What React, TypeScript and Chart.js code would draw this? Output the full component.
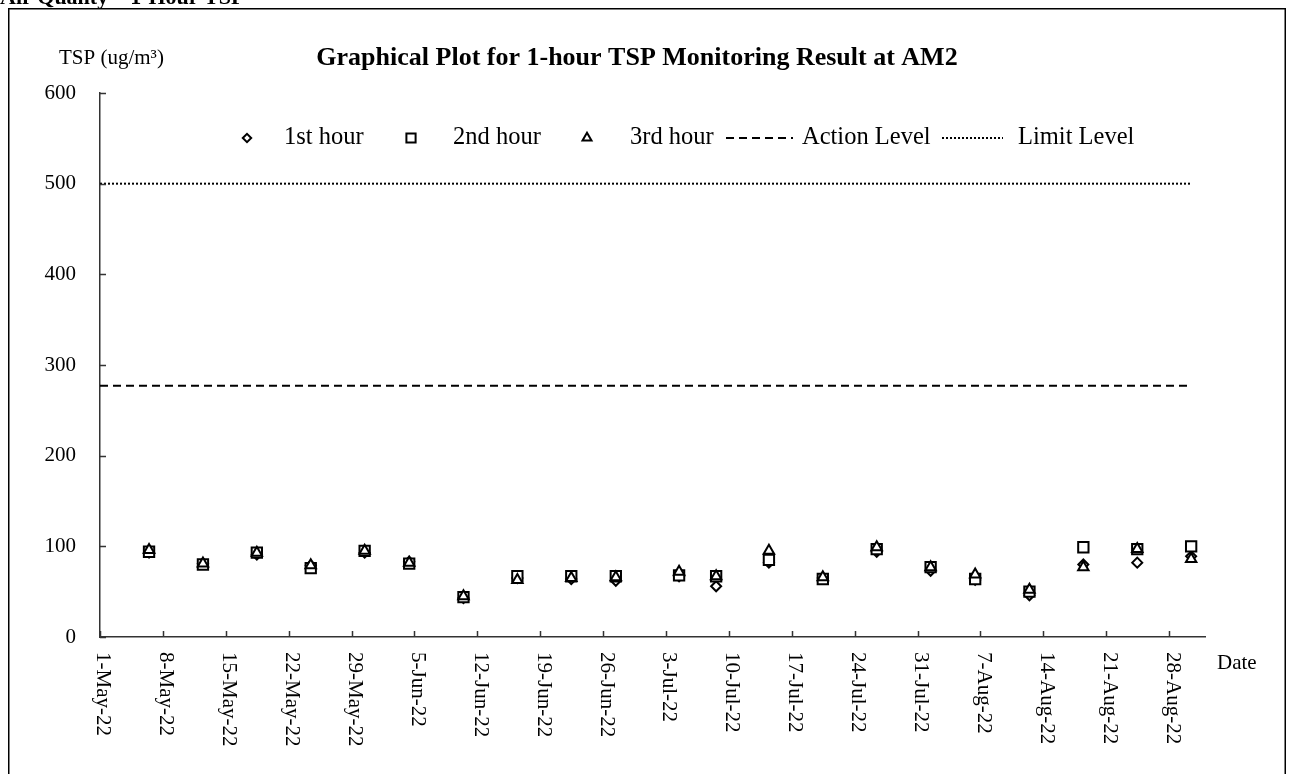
import React, { useEffect, useRef } from 'react';
import { Chart, registerables } from 'chart.js';

Chart.register(...registerables);

// ---------- data ----------
const sampleTimes = [
  '2022-05-06T11:00', '2022-05-12T11:00', '2022-05-18T11:00', '2022-05-24T11:00', '2022-05-30T11:00',
  '2022-06-04T10:00', '2022-06-10T11:00', '2022-06-16T11:00', '2022-06-22T11:00', '2022-06-27T10:00',
  '2022-07-04T11:00', '2022-07-08T14:00', '2022-07-14T11:00', '2022-07-20T11:00', '2022-07-26T11:00',
  '2022-08-01T11:00', '2022-08-06T10:00', '2022-08-12T11:00', '2022-08-18T11:00', '2022-08-24T11:00',
  '2022-08-30T11:00',
];
const firstHour = [93, 81, 91, 79, 93, 83, 43, 65, 64, 62, 67, 56, 82, 65, 94, 73, 63, 46, 80, 82, 89];
const secondHour = [94, 80, 93, 76, 95, 81, 44, 67, 67, 67, 68, 67, 85, 64, 97, 77, 64, 50, 99, 97, 100];
const thirdHour = [96, 81, 93, 79, 95, 82, 45, 63, 65, 66, 72, 67, 95, 66, 99, 77, 69, 52, 77, 97, 86];
const actionLevel = 277;
const limitLevel = 500;
const levelStart = '2022-05-01T00:00';
const levelEnd = '2022-08-30T11:00';
const axisStart = '2022-05-01T00:00';
const axisEnd = '2022-09-01T00:00';
const xTickLabels = [
  '1-May-22', '8-May-22', '15-May-22', '22-May-22', '29-May-22', '5-Jun-22', '12-Jun-22', '19-Jun-22',
  '26-Jun-22', '3-Jul-22', '10-Jul-22', '17-Jul-22', '24-Jul-22', '31-Jul-22', '7-Aug-22', '14-Aug-22',
  '21-Aug-22', '28-Aug-22',
];
const yMin = 0;
const yMax = 600;
const yStep = 100;

const headingText = 'Air Quality – 1-Hour TSP';
const titleText = 'Graphical Plot for 1-hour TSP Monitoring Result at AM2';
const yUnitText = 'TSP (ug/m³)';
const xAxisText = 'Date';

// ---------- helpers ----------
const ORIGIN = Date.parse(axisStart + ':00Z');
const dayOf = (s: string) => (Date.parse(s + ':00Z') - ORIGIN) / 86400000;

const FONT = '"Liberation Serif", "Times New Roman", serif';

function drawMarker(ctx: CanvasRenderingContext2D, style: string, x: number, y: number, r: number) {
  ctx.beginPath();
  if (style === 'rectRot') {
    ctx.moveTo(x - r, y);
    ctx.lineTo(x, y - r);
    ctx.lineTo(x + r, y);
    ctx.lineTo(x, y + r);
    ctx.closePath();
  } else if (style === 'rect') {
    const s = r * Math.SQRT1_2;
    ctx.rect(x - s, y - s, 2 * s, 2 * s);
  } else {
    for (let k = 0; k < 3; k++) {
      const a = (k * 2 * Math.PI) / 3;
      const px = x + Math.sin(a) * r;
      const py = y - Math.cos(a) * r;
      if (k === 0) ctx.moveTo(px, py);
      else ctx.lineTo(px, py);
    }
    ctx.closePath();
  }
  ctx.fillStyle = '#fff';
  ctx.fill();
  ctx.stroke();
}

const legendLayout = [
  { mx: 247, tx: 284, r: 4.2 },
  { mx: 411, tx: 453, r: 6.5 },
  { mx: 587, tx: 630, r: 5.2 },
  { lx0: 726, lx1: 793, tx: 802 },
  { lx0: 942, lx1: 1003, tx: 1018 },
];

const decorPlugin = {
  id: 'decor',
  beforeDraw(chart: any) {
    const { ctx, width, height } = chart;
    ctx.save();
    ctx.fillStyle = '#fff';
    ctx.fillRect(0, 0, width, height);
    ctx.restore();
  },
  afterDraw(chart: any) {
    const { ctx, chartArea } = chart;
    const xs = chart.scales.x;
    const ys = chart.scales.y;
    ctx.save();
    // outer frame
    ctx.strokeStyle = '#000';
    ctx.lineWidth = 1.5;
    ctx.strokeRect(8.75, 8.75, 1276.5, 800);

    ctx.fillStyle = '#000';
    // heading (mostly above the page)
    ctx.font = `bold 22px ${FONT}`;
    ctx.textAlign = 'left';
    ctx.textBaseline = 'alphabetic';
    ctx.fillText(headingText, 0, 4);

    // title
    ctx.font = `bold 26px ${FONT}`;
    ctx.textAlign = 'center';
    ctx.textBaseline = 'middle';
    ctx.fillText(titleText, 637, 58);

    // y unit
    ctx.font = `21px ${FONT}`;
    ctx.textAlign = 'left';
    ctx.fillText(yUnitText, 59, 58);

    // x axis label
    ctx.fillText(xAxisText, 1217, 663);

    // inner tick marks
    ctx.strokeStyle = '#333';
    ctx.lineWidth = 1.5;
    ctx.beginPath();
    xs.ticks.forEach((t: any) => {
      const px = Math.round(xs.getPixelForValue(t.value)) + 0.5;
      ctx.moveTo(px, chartArea.bottom);
      ctx.lineTo(px, chartArea.bottom - 6);
    });
    ys.ticks.forEach((t: any) => {
      const py = Math.round(ys.getPixelForValue(t.value)) + 0.5;
      ctx.moveTo(chartArea.left, py);
      ctx.lineTo(chartArea.left + 6, py);
    });
    ctx.stroke();

    // rotated x tick labels (top-to-bottom)
    ctx.fillStyle = '#000';
    ctx.font = `21px ${FONT}`;
    ctx.textAlign = 'left';
    ctx.textBaseline = 'middle';
    xs.ticks.forEach((t: any) => {
      const px = xs.getPixelForValue(t.value);
      ctx.save();
      ctx.translate(px + 3, chartArea.bottom + 15);
      ctx.rotate(Math.PI / 2);
      ctx.fillText(String(t.label), 0, 0);
      ctx.restore();
    });

    // legend
    const ly = 138;
    ctx.font = `24.5px ${FONT}`;
    ctx.textBaseline = 'middle';
    chart.data.datasets.forEach((ds: any, i: number) => {
      const L: any = legendLayout[i];
      ctx.strokeStyle = '#000';
      if (L.mx !== undefined) {
        ctx.lineWidth = 2;
        ctx.setLineDash([]);
        drawMarker(ctx, ds.pointStyle, L.mx, ly, L.r);
      } else {
        ctx.lineWidth = 2;
        ctx.setLineDash(ds.borderDash || []);
        ctx.beginPath();
        ctx.moveTo(L.lx0, ly);
        ctx.lineTo(L.lx1, ly);
        ctx.stroke();
        ctx.setLineDash([]);
      }
      ctx.fillStyle = '#000';
      ctx.fillText(ds.label, L.tx, ly);
    });
    ctx.restore();
  },
};

export default function App() {
  const ref = useRef<HTMLCanvasElement | null>(null);
  useEffect(() => {
    if (!ref.current) return;
    const xDays = sampleTimes.map(dayOf);
    const mk = (vals: number[]) => vals.map((v, i) => ({ x: xDays[i], y: v }));
    const levelLine = (v: number) => [
      { x: dayOf(levelStart), y: v },
      { x: dayOf(levelEnd), y: v },
    ];
    const pointCommon = {
      showLine: false,
      pointBackgroundColor: '#fff',
      pointBorderColor: '#000',
      pointBorderWidth: 2,
      borderColor: '#000',
      backgroundColor: '#fff',
    };
    const chart = new Chart(ref.current, {
      type: 'scatter',
      data: {
        datasets: [
          { ...pointCommon, label: '1st hour', data: mk(firstHour), pointStyle: 'rectRot', pointRadius: 5, order: 2 },
          { ...pointCommon, label: '2nd hour', data: mk(secondHour), pointStyle: 'rect', pointRadius: 7.3, order: 1 },
          { ...pointCommon, label: '3rd hour', data: mk(thirdHour), pointStyle: 'triangle', pointRadius: 6, order: 0 },
          {
            label: 'Action Level', data: levelLine(actionLevel), showLine: true, borderColor: '#000',
            borderWidth: 2, borderDash: [8, 5], pointRadius: 0, order: 3,
          },
          {
            label: 'Limit Level', data: levelLine(limitLevel), showLine: true, borderColor: '#000',
            borderWidth: 2, borderDash: [2, 2], pointRadius: 0, order: 4,
          },
        ],
      } as any,
      options: {
        animation: false,
        responsive: false,
        events: [],
        layout: { padding: { left: 0, right: 85, top: 93, bottom: 0 } },
        plugins: { legend: { display: false }, tooltip: { enabled: false }, title: { display: false } },
        scales: {
          x: {
            type: 'linear',
            min: dayOf(axisStart),
            max: dayOf(axisEnd),
            grid: { display: false, drawTicks: false },
            border: { display: true, color: '#333', width: 1.5 },
            ticks: {
              display: false,
              stepSize: 7,
              includeBounds: false,
              callback: (_v: any, i: number) => xTickLabels[i],
            },
            afterFit: (s: any) => { s.height = 137; },
          },
          y: {
            type: 'linear',
            min: yMin,
            max: yMax,
            grid: { display: false, drawTicks: false },
            border: { display: true, color: '#333', width: 1.5 },
            ticks: {
              stepSize: yStep,
              padding: 24,
              color: '#000',
              font: { family: FONT, size: 21 },
            },
            afterFit: (s: any) => { s.width = 100; },
          },
        },
      } as any,
      plugins: [decorPlugin],
    });
    return () => chart.destroy();
  }, []);
  return (
    <div style={{ position: 'fixed', left: 0, top: 0, width: 1290, height: 774, overflow: 'hidden', background: '#fff' }}>
      <canvas ref={ref} width={1290} height={774} style={{ display: 'block' }} />
    </div>
  );
}
